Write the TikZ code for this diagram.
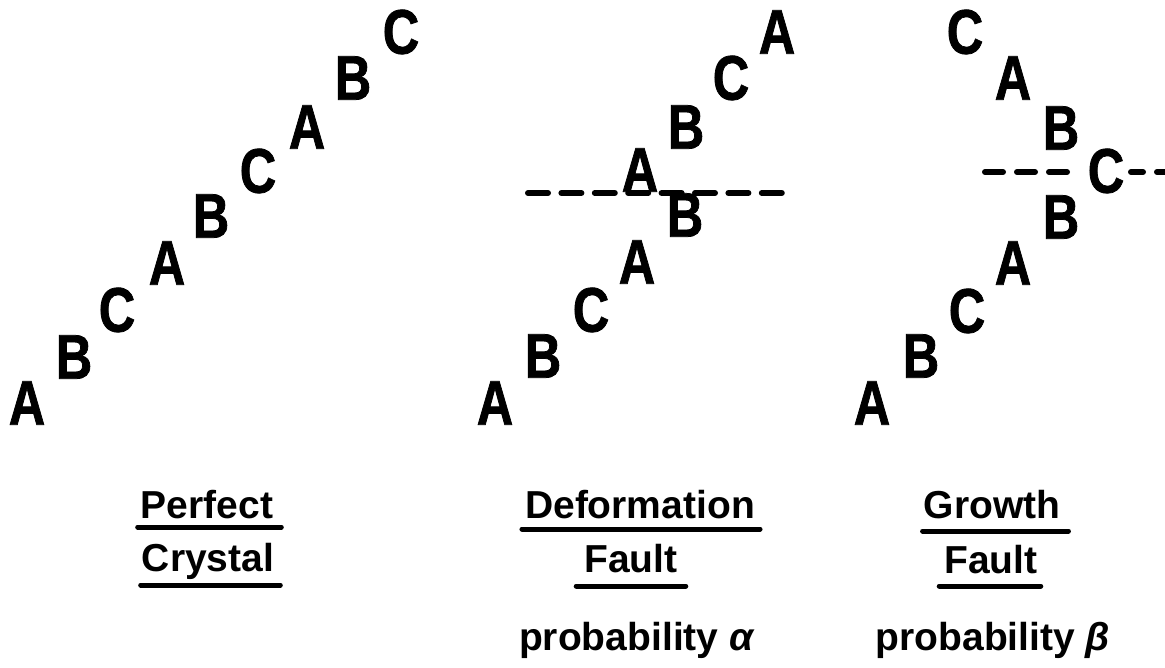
\documentclass[tikz,border=0pt]{standalone}
\usepackage{fontspec}
\setmainfont{Liberation Sans}
\newfontfamily\layerfont[FakeStretch=0.8, FakeBold=1.2]{Liberation Sans}
\usepackage{tikz}

\begin{document}
\begin{tikzpicture}[x=1pt, y=-1pt,
            layer/.style={font=\layerfont\bfseries\fontsize{63}{70}\selectfont, inner sep=0pt, anchor=center},
            caption/.style={font=\bfseries\fontsize{39}{44}\selectfont, inner sep=0pt, anchor=base},
            uline/.style={line width=5pt, line cap=round},
            fault/.style={line width=6pt, line cap=round, dash pattern=on 20pt off 13.4pt}]

            \useasboundingbox (0,0) rectangle (1165,668);

            % Fault planes
            \coordinate (dfl) at (528,193);
            \coordinate (dfr) at (782,193);
            \coordinate (gfl) at (985,172);
            \coordinate (gfr) at (1075,172);
            \coordinate (gfs) at (1131,172);
            \coordinate (gfe) at (1175,172);
            \draw [fault] (dfl) -- (dfr);
            \draw [fault, dash pattern=on 18pt off 14pt] (gfl) -- (gfr);
            \draw [fault, dash pattern=on 12pt off 14pt] (gfs) -- (gfe);

            % Stacking sequences
            \foreach \nm/\lt/\px/\py in {p1/A/27/403, p2/B/74/357, p3/C/117/310, p4/A/167/263, p5/B/211/216,
                                         p6/C/258/171, p7/A/307/127, p8/B/353/78, p9/C/401/32}
              \node (\nm) [layer] at (\px,\py) {\lt};
            \foreach \nm/\lt/\px/\py in {d1/A/495/403, d2/B/543/356, d3/C/591/310, d4/A/637/262, d5/B/685/215,
                                         d6/A/640/170, d7/B/686/127, d8/C/731/78, d9/A/777/32}
              \node (\nm) [layer] at (\px,\py) {\lt};
            \foreach \nm/\lt/\px/\py in {g1/A/872/403, g2/B/921/356, g3/C/967/311, g4/A/1013/263, g5/B/1061/217,
                                         g6/C/1106/171, g7/B/1061/128, g8/A/1013/78, g9/C/965/32}
              \node (\nm) [layer] at (\px,\py) {\lt};

            % Captions
            \node (perf) [caption] at (207,518) {Perfect};
            \node (pcry) [caption] at (208,571) {Crystal};
            \node (defo) [caption] at (640,518) {Deformation};
            \node (dflt) [caption] at (631,572) {Fault};
            \node (grow) [caption] at (992,518) {Growth};
            \node (gflt) [caption] at (991,573) {Fault};
            \node (dprob) [caption] at (637,650) {probability \textit{α}};
            \node (gprob) [caption] at (993,650) {probability \textit{β}};

            \draw [uline] ([xshift=-3pt,yshift=-9pt]perf.base west) -- ([xshift=8pt,yshift=-9pt]perf.base east);
            \draw [uline] ([xshift=-1pt,yshift=-14pt]pcry.base west) -- ([xshift=6pt,yshift=-14pt]pcry.base east);
            \draw [uline] ([xshift=-3pt,yshift=-11pt]defo.base west) -- ([xshift=5pt,yshift=-11pt]defo.base east);
            \draw [uline] ([xshift=-8pt,yshift=-14pt]dflt.base west) -- ([xshift=8pt,yshift=-14pt]dflt.base east);
            \draw [uline] ([xshift=-1pt,yshift=-13pt]grow.base west) -- ([xshift=8pt,yshift=-13pt]grow.base east);
            \draw [uline] ([xshift=-5pt,yshift=-13pt]gflt.base west) -- ([xshift=3pt,yshift=-13pt]gflt.base east);
\end{tikzpicture}
\end{document}
